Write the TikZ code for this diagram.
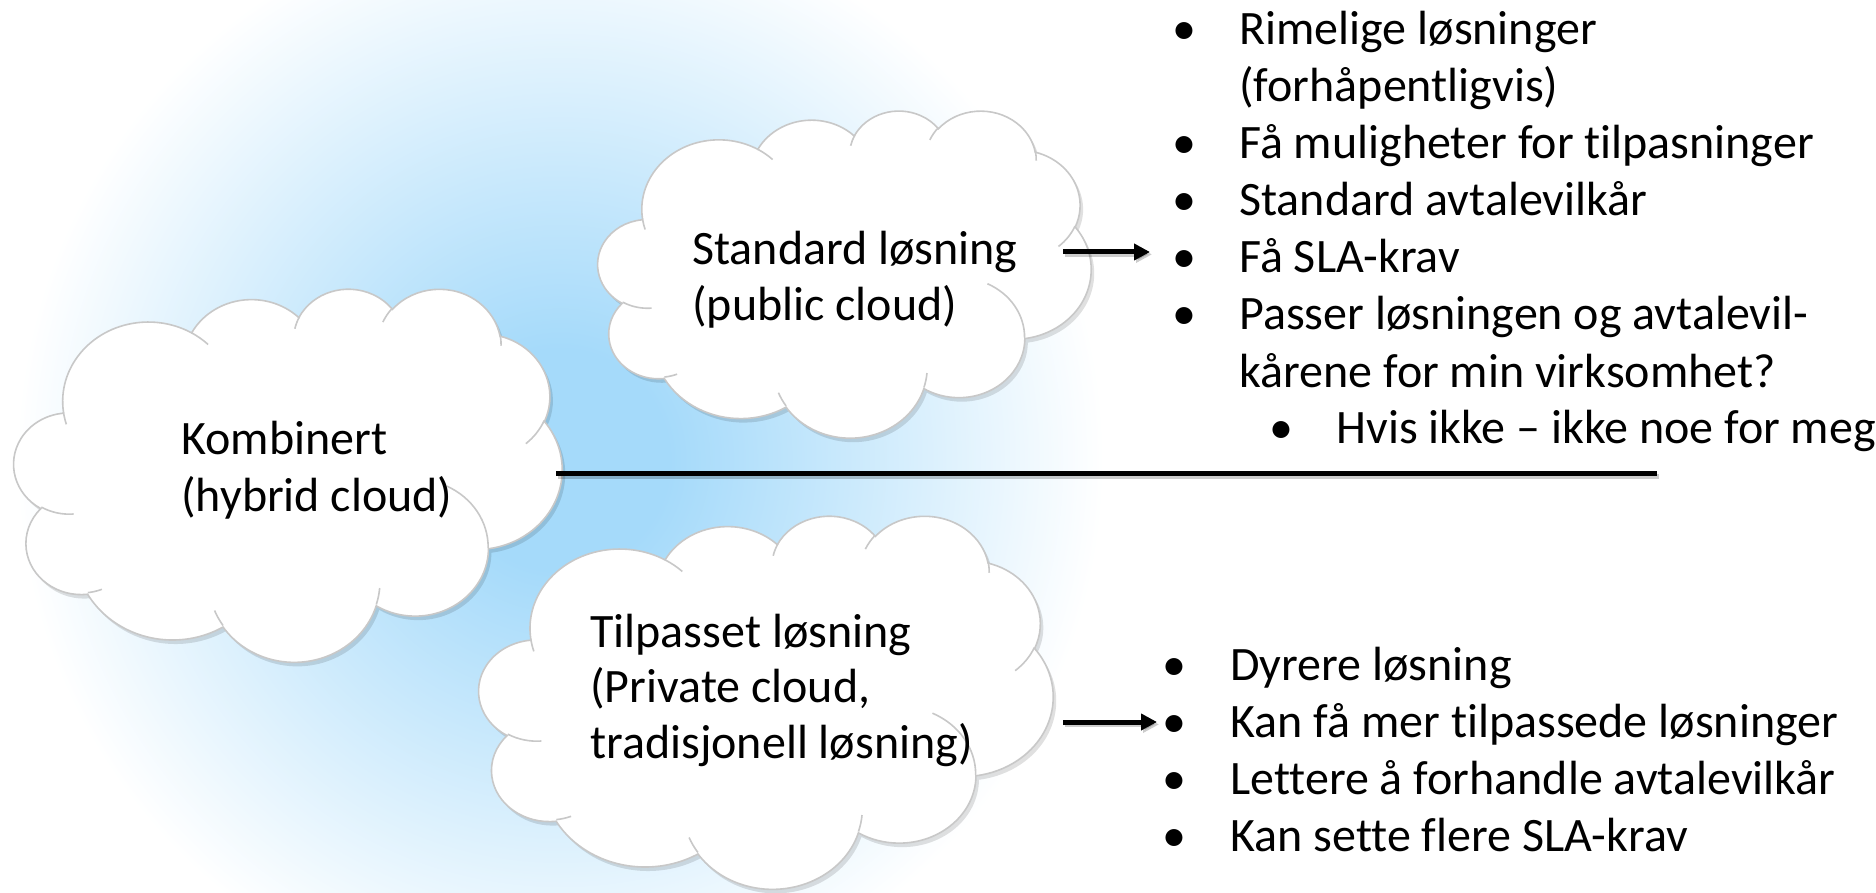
\documentclass[tikz,border=0pt]{standalone}
\usepackage{fontspec}
\setmainfont{Carlito}[Ligatures=NoCommon]
\usetikzlibrary{arrows.meta}
\definecolor{glow}{RGB}{165,218,250}
\definecolor{cloudline}{RGB}{200,200,200}
\pgfdeclareradialshading{bgglow}{\pgfpointorigin}{color(0bp)=(glow); color(2bp)=(glow); color(10bp)=(white); color(50bp)=(white)}

% DrawingML-style arcTo (visual angles), path units
\newcommand{\ooarc}[4]{%
  \pgfextra{%
    \pgfmathsetmacro\oota{atan2((#1)*sin(#3),(#2)*cos(#3))}%
    \pgfmathsetmacro\ootb{atan2((#1)*sin((#3)+(#4)),(#2)*cos((#3)+(#4)))}%
    \pgfmathsetmacro\ootd{\ootb-\oota}%
    \pgfmathsetmacro\ootd{(#4)>0 ? (\ootd<0 ? \ootd+360 : \ootd) : (\ootd>0 ? \ootd-360 : \ootd)}%
  }
  arc[start angle=\oota, delta angle=\ootd, x radius=#1, y radius=#2]
}
\newcommand{\cloudmain}{(39.00,143.70)
  \ooarc{67.53}{91.90}{-190.487}{123.781}
  \ooarc{53.33}{72.67}{-144.102}{89.945}
  \ooarc{43.65}{59.45}{-145.808}{99.723}
  \ooarc{48.57}{65.95}{-130.986}{117.242}
  \ooarc{53.33}{72.73}{-78.709}{109.027}
  \ooarc{67.75}{92.20}{-46.267}{130.269}
  \ooarc{57.85}{78.67}{0.625}{114.033}
  \ooarc{67.52}{92.15}{22.452}{115.173}
  \ooarc{77.20}{105.43}{66.243}{75.711}
  \ooarc{43.60}{59.18}{-274.942}{146.736}
  \ooarc{43.45}{59.45}{-246.829}{152.519} -- cycle}
\newcommand{\cloudinner}{(46.93,261.77) \ooarc{43.45}{59.45}{86.742}{26.430}
  (69.28,348.99) \ooarc{43.60}{59.18}{73.610}{11.447}
  (164.78,390.90) \ooarc{67.52}{92.15}{137.624}{14.081}
  (288.27,347.51) \ooarc{67.52}{92.15}{6.453}{15.998}
  (341.29,229.54) \ooarc{57.85}{78.67}{-70.292}{70.917}
  (417.98,153.54) \ooarc{53.33}{72.73}{30.318}{27.752}
  (383.24,54.26) \ooarc{48.57}{65.95}{-13.744}{14.859}
  (290.78,39.52) \ooarc{48.57}{65.95}{-149.181}{18.195}
  (221.41,47.20) \ooarc{43.65}{59.45}{-163.494}{17.686}
  (140.00,51.92) \ooarc{67.53}{91.90}{-66.707}{12.319}
  (41.27,157.89) \ooarc{67.53}{91.90}{157.654}{11.858}}
\newcommand{\drawcloud}[4]{%
  \begin{scope}[shift={(#1+3,#2+4)}, xscale=#3/432, yscale=#4/432]
    \fill[black, opacity=0.12] \cloudmain;
  \end{scope}
  \begin{scope}[shift={(#1,#2)}, xscale=#3/432, yscale=#4/432]
    \filldraw[fill=white, draw=cloudline, line width=0.8pt] \cloudmain;
    \draw[cloudline, line width=0.8pt] \cloudinner;
  \end{scope}}

\begin{document}
\begin{tikzpicture}[x=0.5pt,y=-0.5pt,
  txt/.style={anchor=base west, inner sep=0pt, font=\fontsize{24pt}{28.5pt}\selectfont},
  bul/.style={anchor=base, inner sep=0pt, font=\fontsize{24pt}{28.5pt}\selectfont},
  heavy/.style={line width=2.5pt, black},
  shad/.style={line width=2.5pt, black, opacity=0.2},
  tip/.style={-{Triangle[length=8pt,width=8pt]}}]
\useasboundingbox (0,0) rectangle (1876,893);
\begin{scope}
  \clip (0,0) rectangle (1876,893);
  \fill[shading=bgglow] (-800,-920) rectangle (1920,1840);
\end{scope}

% clouds
\drawcloud{14}{288}{548}{373}
\drawcloud{598}{110}{493}{327}
\drawcloud{479}{515}{574}{373}

% cloud texts
\node[txt] (kombi1) at (181,455) {Kombinert};
\node[txt] (kombi2) at (181,511) {(hybrid cloud)};
\node[txt] (std1) at (692,265) {Standard løsning};
\node[txt] (std2) at (692,321) {(public cloud)};
\node[txt] (tilp1) at (590,647) {Tilpasset løsning};
\node[txt] (tilp2) at (590,702) {(Private cloud,};
\node[txt] (tilp3) at (590,758) {tradisjonell løsning)};

% top list
\foreach \y in {45,159,216,273,330} {\node[bul] at (1184,\y) {•};}
\node[txt] (p1) at (1239,45) {Rimelige løsninger};
\node[txt] (p1b) at (1239,102) {(forhåpentligvis)};
\node[txt] (p2) at (1239,159) {Få muligheter for tilpasninger};
\node[txt] (p3) at (1239,216) {Standard avtalevilkår};
\node[txt] (p4) at (1239,273) {Få SLA-krav};
\node[txt] (p5) at (1239,330) {Passer løsningen og avtalevil-};
\node[txt] (p5b) at (1239,387) {kårene for min virksomhet?};
\node[bul] at (1281,444) {•};
\node[txt] (p6) at (1336,444) {Hvis ikke – ikke noe for meg};

% bottom list
\foreach \y in {680,737,794,851} {\node[bul] at (1174,\y) {•};}
\node[txt] (q1) at (1230,680) {Dyrere løsning};
\node[txt] (q2) at (1230,737) {Kan få mer tilpassede løsninger};
\node[txt] (q3) at (1230,794) {Lettere å forhandle avtalevilkår};
\node[txt] (q4) at (1230,851) {Kan sette flere SLA-krav};

% connectors
\coordinate (lineA) at (556,474);
\coordinate (lineB) at (1657,474);
\coordinate (arr1s) at (1063,252);
\coordinate (arr1e) at (1150,252);
\coordinate (arr2s) at (1063,722);
\coordinate (arr2e) at (1157,722);
\draw[shad, transform canvas={xshift=1pt,yshift=-1.2pt}] (lineA) -- (lineB);
\draw[heavy] (lineA) -- (lineB);
\draw[shad, tip, transform canvas={xshift=1pt,yshift=-1.2pt}] (arr1s) -- (arr1e);
\draw[shad, tip, transform canvas={xshift=1pt,yshift=-1.2pt}] (arr2s) -- (arr2e);
\draw[heavy, tip] (arr1s) -- (arr1e);
\draw[heavy, tip] (arr2s) -- (arr2e);
\end{tikzpicture}
\end{document}
